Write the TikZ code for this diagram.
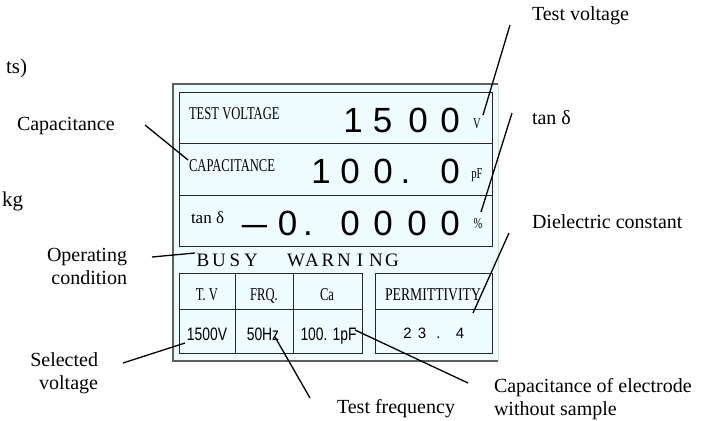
\documentclass[tikz,border=0pt]{standalone}
\usepackage{fontspec}
\usepackage{graphicx}
\setmainfont{Liberation Serif}
\newfontfamily\lsans{Liberation Sans}
\definecolor{lcdbg}{RGB}{238,252,254}
\definecolor{framegray}{RGB}{95,95,95}
\newcommand\cond[1]{\scalebox{0.7}[1]{#1}}
\newcommand\condsans[1]{\scalebox{0.77}[1]{#1}}
\newcommand\ltr[1]{\makebox[16pt]{#1}}
\begin{document}
\begin{tikzpicture}[x=1pt,y=-1pt,
  every node/.style={inner sep=0pt, outer sep=0pt},
  lbl/.style={font=\fontsize{20}{23}\selectfont},
  frag/.style={font=\fontsize{21}{21}\selectfont},
  lcd/.style={font=\fontsize{18}{18}\selectfont},
  unit/.style={font=\fontsize{15}{15}\selectfont, anchor=base},
  big/.style={font=\lsans\fontsize{35}{35}\selectfont, anchor=base},
  val/.style={font=\lsans\fontsize{18}{18}\selectfont, anchor=base},
  perm/.style={font=\lsans\fontsize{15}{15}\selectfont, anchor=base},
  cell/.style={draw=black!85, line width=0.9pt},
  ptr/.style={draw=black, line width=1.3pt},
]
\useasboundingbox (0,0) rectangle (703,420);

% clipped fragments of neighbouring text
\node[frag, anchor=base east] (frag1) at (27,74) {ts)};
\node[frag, anchor=base east] (frag2) at (23,206) {kg};

% panel
\fill[lcdbg] (173,84) rectangle (498,361);
\draw[framegray, line width=1.5pt] (498,84) -- (173,84) -- (173,361) -- (498,361);
\draw[black!15, line width=0.6pt] (498,84) -- (498,361);

% top display box
\draw[cell] (179,92) rectangle (492,246);
\draw[cell] (179,143) -- (492,143);
\draw[cell] (179,195) -- (492,195);

% bottom table
\draw[cell] (179,273) rectangle (362,353);
\draw[cell] (235,273) -- (235,353);
\draw[cell] (293,273) -- (293,353);
\draw[cell] (179,309) -- (362,309);
\draw[cell] (375,273) rectangle (492,353);
\draw[cell] (375,309) -- (492,309);

% row labels
\node[lcd, anchor=base west] (tvlab) at (189,119) {\cond{TEST VOLTAGE}};
\node[lcd, anchor=base west] (caplab) at (189,171) {\cond{CAPACITANCE}};
\node[font=\fontsize{17}{17}\selectfont, anchor=base west] (tanlab) at (191,223) {tan δ};

% row 1 digits
\node[big] (a1) at (353,132) {1};
\node[big] (a2) at (382.5,132) {5};
\node[big] (a3) at (418,132) {0};
\node[big] (a4) at (450,132) {0};
\node[unit] (uV) at (477,128) {\cond{V}};
% row 2 digits
\node[big] (b1) at (321,183) {1};
\node[big] (b2) at (350,183) {0};
\node[big] (b3) at (383,183) {0};
\node[big] (b4) at (405.5,183) {.};
\node[big] (b5) at (450,183) {0};
\node[unit] (upF) at (477,178) {\cond{pF}};
% row 3 digits
\node[big] (c0) at (254.5,235) {\scalebox{0.72}[1]{—}};
\node[big] (c1) at (287.5,235) {0};
\node[big] (c2) at (308,235) {.};
\node[big] (c3) at (350,235) {0};
\node[big] (c4) at (383,235) {0};
\node[big] (c5) at (417,235) {0};
\node[big] (c6) at (450,235) {0};
\node[unit] (upc) at (478,228) {\cond{\%}};

% status line
\node[font=\fontsize{19}{19}\selectfont, anchor=base west] (busy) at (195,266)
  {\ltr{B}\ltr{U}\ltr{S}\ltr{Y}\hspace{29pt}\ltr{W}\ltr{A}\ltr{R}\ltr{N}\ltr{I}\ltr{N}\ltr{G}};

% table headers
\node[lcd, anchor=base] (hTV) at (207,300) {\cond{T. V}};
\node[lcd, anchor=base] (hFRQ) at (264,300) {\cond{FRQ.}};
\node[lcd, anchor=base] (hCa) at (327,300) {\cond{Ca}};
\node[lcd, anchor=base] (hPerm) at (433,300) {\scalebox{0.76}[1]{PERMITTIVITY}};
% table values
\node[val] (vTV) at (207,340) {\condsans{1500V}};
\node[val] (vFRQ) at (263,340) {\condsans{50Hz}};
\node[val] (vCa) at (328.5,340) {\condsans{100. 1pF}};
\node[perm] (p1) at (407.5,338) {2};
\node[perm] (p2) at (422,338) {3};
\node[perm] (p3) at (438.5,338) {.};
\node[perm] (p4) at (460,338) {4};

% callout labels
\node[lbl, anchor=base west] (lTV) at (532,21) {Test voltage};
\node[lbl, anchor=base west] (lTan) at (532,124) {tan δ};
\node[lbl, anchor=base west] (lDC) at (532,228) {Dielectric constant};
\node[lbl, anchor=north west, align=left] (lCE) at (494,378) {Capacitance of electrode\\without sample};
\node[lbl, anchor=base west] (lTF) at (337,413) {Test frequency};
\node[lbl, anchor=base west] (lCap) at (17,130) {Capacitance};
\node[lbl, anchor=north east, align=right] (lOC) at (127,248) {Operating\\condition};
\node[lbl, anchor=north east, align=right] (lSV) at (98,353) {Selected\\voltage};

% connector end points
\coordinate (pCapA) at (145,125);  \coordinate (pCapB) at (188,160);
\coordinate (pTVA) at (510,25);    \coordinate (pTVB) at (483,115);
\coordinate (pTanA) at (512,113);  \coordinate (pTanB) at (481,212);
\coordinate (pDCA) at (509,233);   \coordinate (pDCB) at (473,313);
\coordinate (pCEA) at (468,383);   \coordinate (pCEB) at (355,330);
\coordinate (pTFA) at (310,398);   \coordinate (pTFB) at (275,337);
\coordinate (pSVA) at (123,363);   \coordinate (pSVB) at (185,343);
\coordinate (pOCA) at (152,257);   \coordinate (pOCB) at (195,253);

\draw[ptr] (pCapA) -- (pCapB);
\draw[ptr] (pTVA) -- (pTVB);
\draw[ptr] (pTanA) -- (pTanB);
\draw[ptr] (pDCA) -- (pDCB);
\draw[ptr] (pCEA) -- (pCEB);
\draw[ptr] (pTFA) -- (pTFB);
\draw[ptr] (pSVA) -- (pSVB);
\draw[ptr] (pOCA) -- (pOCB);
\end{tikzpicture}
\end{document}
